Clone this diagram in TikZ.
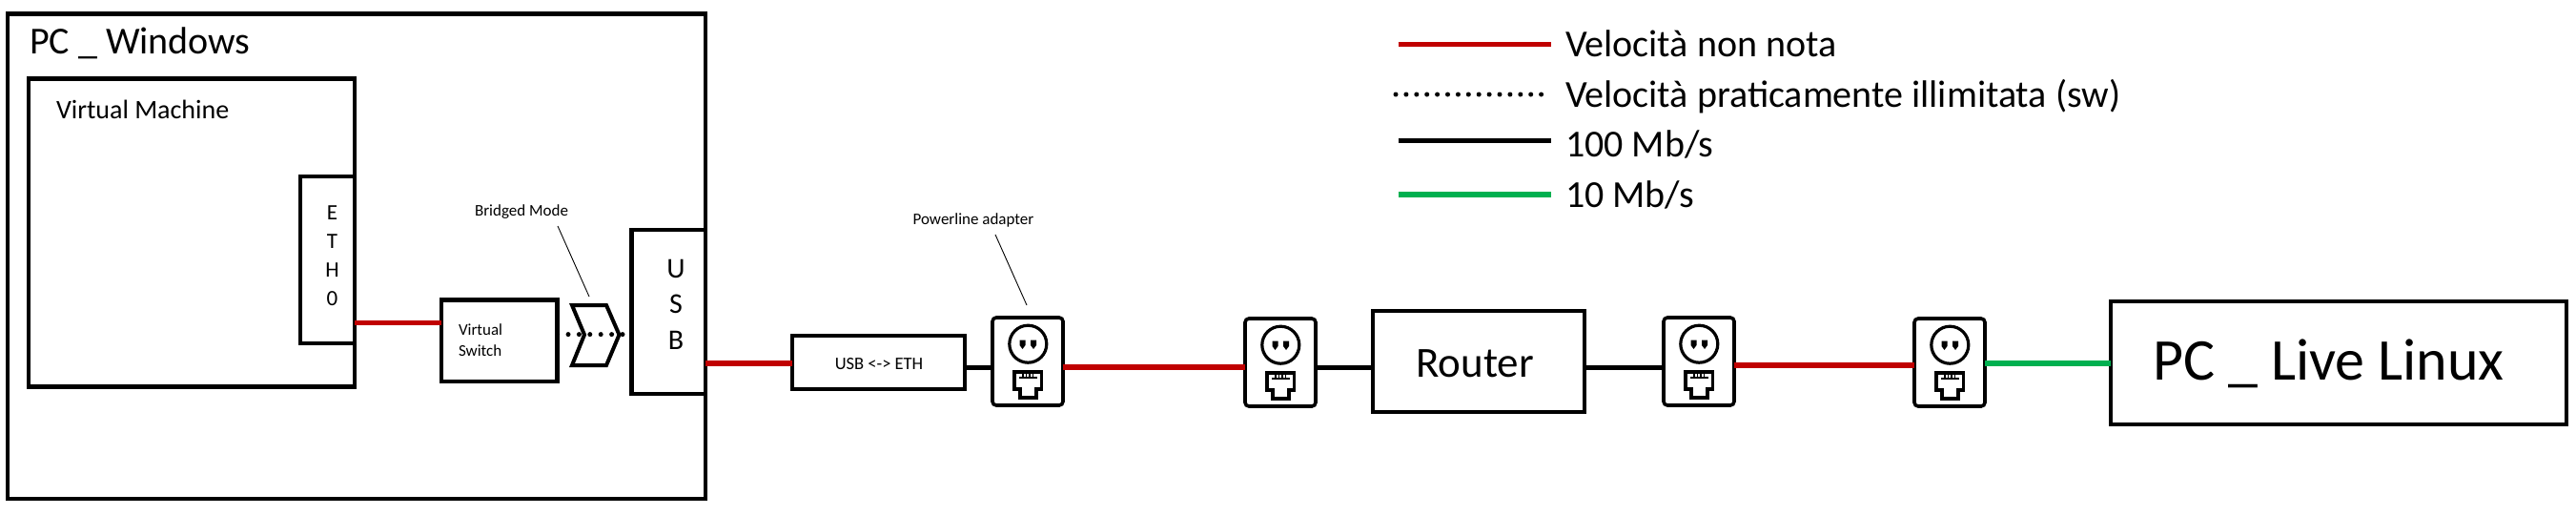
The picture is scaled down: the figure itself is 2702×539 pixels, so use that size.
\documentclass[tikz,border=0pt]{standalone}
\usepackage{fontspec}
\setmainfont{Carlito}
\definecolor{linkred}{HTML}{C00000}
\definecolor{linkgreen}{HTML}{00B050}
\newcommand{\fsz}[1]{\fontsize{#1}{#1}\selectfont}
\tikzset{
  boxnode/.style={draw=black,line width=4.5pt,fill=white,rectangle,inner sep=0pt,outer sep=0pt,anchor=north west},
  plugnode/.style={draw=black,line width=3.6pt,fill=white,rectangle,rounded corners=4pt,inner sep=0pt,outer sep=0pt,anchor=north west,minimum width=74pt,minimum height=92pt},
  txt/.style={inner sep=0pt,outer sep=0pt,text=black},
  redlink/.style={draw=linkred,line width=5.5pt},
  blacklink/.style={draw=black,line width=5pt},
  greenlink/.style={draw=linkgreen,line width=5.5pt},
  dotlink/.style={draw=black,line width=5pt,line cap=round,dash pattern=on 0pt off 11.4pt},
  thinline/.style={draw=black,line width=0.9pt},
  plugicon/.pic={
    \draw[black,line width=3.2pt] (37.3,27.7) circle (19.5);
    \fill[black] (28.5,23.5) -- (34.5,23.5) -- (34.5,29) -- (31.5,33) -- (28.5,29) -- cycle;
    \fill[black] (46,23.5) -- (40,23.5) -- (40,29) -- (43,33) -- (46,29) -- cycle;
    \draw[black,line width=3.2pt,line join=miter] (23,57) -- (51.5,57) -- (51.5,75) -- (46,75) -- (46,84) -- (29,84) -- (29,75) -- (23,75) -- cycle;
    \foreach \cx in {32,35.5,39,42.5} \draw[black,line width=1.6pt] (\cx,58) -- (\cx,63);
    \draw[black,line width=1.2pt] (28,63) -- (47,63);
  }
}
\begin{document}
\begin{tikzpicture}[x=1pt,y=-1pt]
\useasboundingbox[fill=white] (0,0) rectangle (2702,539);
% boxes
\node[boxnode,minimum width=732pt,minimum height=508.5pt] (win) at (8,14.5) {};
\node[boxnode,minimum width=342pt,minimum height=323pt] (vm) at (30,82.5) {};
\node[boxnode,minimum width=57pt,minimum height=175pt] (eth) at (315,185) {};
\node[boxnode,minimum width=121.6pt,minimum height=85.5pt] (vs) at (463,314.5) {};
\node[boxnode,minimum width=77.4pt,minimum height=172pt] (usb) at (662.6,241) {};
\node[boxnode,minimum width=181pt,minimum height=56pt] (conv) at (831,352) {};
\node[boxnode,minimum width=222pt,minimum height=106pt] (router) at (1440,326) {};
\node[boxnode,minimum width=478pt,minimum height=129pt] (linux) at (2214,316) {};
% chevron
\draw[black,line width=4pt,line join=miter] (600,320) -- (636,320) -- (649.5,351) -- (636,383) -- (600,383) -- (613,351) -- cycle;
% powerline adapters
\node[plugnode] (pa) at (1041,333) {};
\node[plugnode] (pb) at (1306,334) {};
\node[plugnode] (pc) at (1745,333) {};
\node[plugnode] (pd) at (2008,334) {};
\pic at (pa.north west) {plugicon};
\pic at (pb.north west) {plugicon};
\pic at (pc.north west) {plugicon};
\pic at (pd.north west) {plugicon};
% connectors
\draw[redlink] ([yshift=-66.1pt]eth.east) -- ([yshift=18.65pt]vs.west);
\draw[dotlink] ([yshift=6.65pt]vs.east) -- ([yshift=-23.6pt,xshift=-8.6pt]usb.west);
\draw[redlink] ([yshift=-54pt]usb.east) -- ([yshift=-1pt]conv.west);
\draw[blacklink] ([yshift=-5pt]conv.east) -- ([yshift=-6pt]pa.west);
\draw[redlink] ([yshift=-6pt]pa.east) -- ([yshift=-5pt]pb.west);
\draw[blacklink] ([yshift=-5pt]pb.east) -- ([yshift=-6pt]router.west);
\draw[blacklink] ([yshift=-6pt]router.east) -- ([yshift=-6pt]pc.west);
\draw[redlink] ([yshift=-4pt]pc.east) -- ([yshift=-3pt]pd.west);
\draw[greenlink] ([yshift=-1pt]pd.east) -- ([yshift=-0.5pt]linux.west);
% annotation leaders
\node[txt,font=\fsz{17}] (bridge) at (547,222) {Bridged Mode};
\node[txt,font=\fsz{17}] (power) at (1021,231) {Powerline adapter};
\coordinate (bridgeend) at (618,311);
\coordinate (powerend) at (1077,320);
\draw[thinline] (585,237) -- (bridgeend);
\draw[thinline] (1044,246) -- (powerend);
% labels
\node[txt,anchor=base west,font=\fsz{40}] (lwin) at (31,56) {PC \_ Windows};
\node[txt,anchor=base west,font=\fsz{28}] (lvm) at (59,124) {Virtual Machine};
\node[txt,font=\fsz{23}] (le) at (348.5,223) {E};
\node[txt,font=\fsz{23}] (lt) at (348.5,253) {T};
\node[txt,font=\fsz{23}] (lh) at (348.5,283) {H};
\node[txt,font=\fsz{23}] (lz) at (348.5,313) {0};
\node[txt,font=\fsz{30}] (lu) at (709,282) {U};
\node[txt,font=\fsz{30}] (ls) at (709,319) {S};
\node[txt,font=\fsz{30}] (lb) at (709,357) {B};
\node[txt,anchor=west,font=\fsz{17}] (lv1) at (481,345.5) {Virtual};
\node[txt,anchor=west,font=\fsz{17}] (lv2) at (481,368) {Switch};
\node[txt,font=\fsz{18.5}] (lconv) at (922,382) {USB <-> ETH};
\node[txt,font=\fsz{45}] (lrouter) at (1547,381) {Router};
\node[txt,anchor=base west,font=\fsz{62}] (llinux) at (2258,398) {PC \_ Live Linux};
% legend
\coordinate (k1a) at (1466.5,46.7); \coordinate (k1b) at (1627,46.7);
\coordinate (k2a) at (1464,99); \coordinate (k2b) at (1627,99);
\coordinate (k3a) at (1466.5,147.7); \coordinate (k3b) at (1627,147.7);
\coordinate (k4a) at (1466.5,204); \coordinate (k4b) at (1627,204);
\draw[redlink] (k1a) -- (k1b);
\draw[dotlink,dash pattern=on 0pt off 10.9pt] (k2a) -- (k2b);
\draw[blacklink] (k3a) -- (k3b);
\draw[greenlink] (k4a) -- (k4b);
\node[txt,anchor=base west,font=\fsz{40}] (t1) at (1642,59) {Velocità non nota};
\node[txt,anchor=base west,font=\fsz{40}] (t2) at (1642,112) {Velocità praticamente illimitata (sw)};
\node[txt,anchor=base west,font=\fsz{40}] (t3) at (1642,164) {100 Mb/s};
\node[txt,anchor=base west,font=\fsz{40}] (t4) at (1642,217) {10 Mb/s};
\end{tikzpicture}
\end{document}
